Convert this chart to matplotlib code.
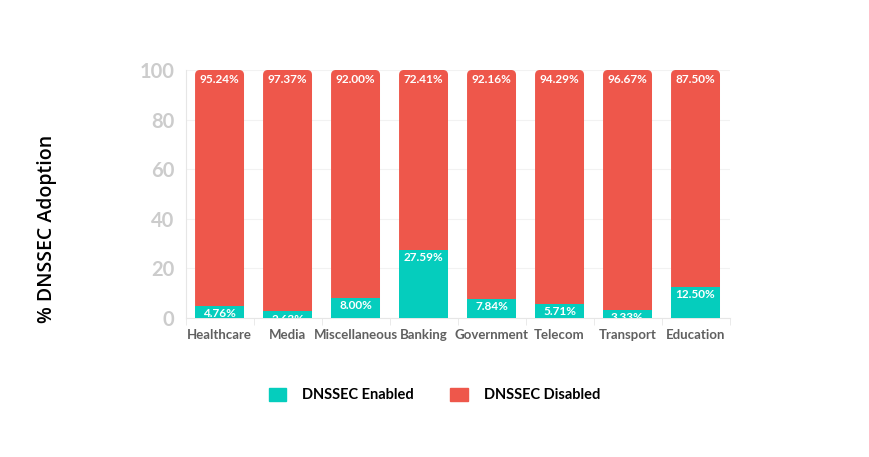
import matplotlib
matplotlib.use("Agg")
import matplotlib.pyplot as plt
from matplotlib.patches import FancyBboxPatch, Patch
import numpy as np

# sector adoption of DNSSEC
sectors = ["Healthcare", "Media", "Miscellaneous", "Banking",
           "Government", "Telecom", "Transport", "Education"]
enabled = [4.76, 2.63, 8.00, 27.59, 7.84, 5.71, 3.33, 12.50]
disabled = [95.24, 97.37, 92.00, 72.41, 92.16, 94.29, 96.67, 87.50]

c_on = "#05cdbd"
c_off = "#ee574b"

plt.rcParams["font.family"] = ["Lato", "DejaVu Sans"]

fig = plt.figure(figsize=(8.69, 4.57), dpi=100)
ax = fig.add_axes([0.2135, 0.3042, 0.626, 0.5427])

x = np.arange(len(sectors))
w = 0.72
ax.set_xlim(-0.5, len(sectors) - 0.5)
ax.set_ylim(0, 100)

# red bars as full columns with rounded top, cyan drawn over the bottom
bars_off = ax.bar(x, np.array(enabled) + np.array(disabled), w, color=c_off, zorder=2)
px_x = 544 / len(sectors)
px_y = 248 / 100
r = 5 / px_x
for b in bars_off:
    b.set_visible(False)
    p = FancyBboxPatch((b.get_x(), b.get_y()), b.get_width(), b.get_height(),
                       boxstyle="round,pad=0,rounding_size=%f" % r,
                       mutation_aspect=px_x / px_y, fc=c_off, ec="none", zorder=2)
    ax.add_patch(p)
bars_on = ax.bar(x, enabled, w, color=c_on, zorder=3)

for i in range(len(sectors)):
    ax.annotate("%.2f%%" % disabled[i], (x[i], 100), xytext=(0, -3), textcoords="offset points",
                ha="center", va="top", color="white", fontsize=8.5, fontweight="bold", zorder=5)
    ax.annotate("%.2f%%" % enabled[i], (x[i], enabled[i]), xytext=(0, -1.5), textcoords="offset points",
                ha="center", va="top", color="white", fontsize=8.5, fontweight="bold", zorder=5,
                annotation_clip=False, clip_on=True)

ax.set_yticks([0, 20, 40, 60, 80, 100])
ax.tick_params(axis="y", length=0, pad=8, labelsize=14.5, labelcolor="#cccccc")
for t in ax.get_yticklabels():
    t.set_fontweight("bold")
ax.set_xticks(x)
ax.set_xticklabels(sectors, fontsize=9.5, color="#606060", fontweight="bold")
ax.set_xticks(np.arange(len(sectors) + 1) - 0.5, minor=True)
ax.tick_params(axis="x", which="major", length=0, pad=8)
ax.tick_params(axis="x", which="minor", length=5, color="#e6e6e6")
ax.grid(axis="y", color="#f2f2f2", lw=0.8, zorder=0)
for s in ["top", "right"]:
    ax.spines[s].set_visible(False)
for s in ["left", "bottom"]:
    ax.spines[s].set_color("#e6e6e6")

fig.text(0.054, 0.5, "% DNSSEC Adoption", rotation=90, ha="center", va="center",
         fontsize=14, family=["Open Sans", "DejaVu Sans"], fontweight="semibold", color="black")

handles = [Patch(color=c_on, label="DNSSEC Enabled"), Patch(color=c_off, label="DNSSEC Disabled")]
leg = fig.legend(handles=handles, loc="center", bbox_to_anchor=(0.5, 0.136), ncol=2,
                 frameon=False, fontsize=10.5, handlelength=1.2, handleheight=1.0,
                 columnspacing=2.5, handletextpad=1.1)
for t in leg.get_texts():
    t.set_fontweight("bold")

fig.savefig("out.png", dpi=100)
